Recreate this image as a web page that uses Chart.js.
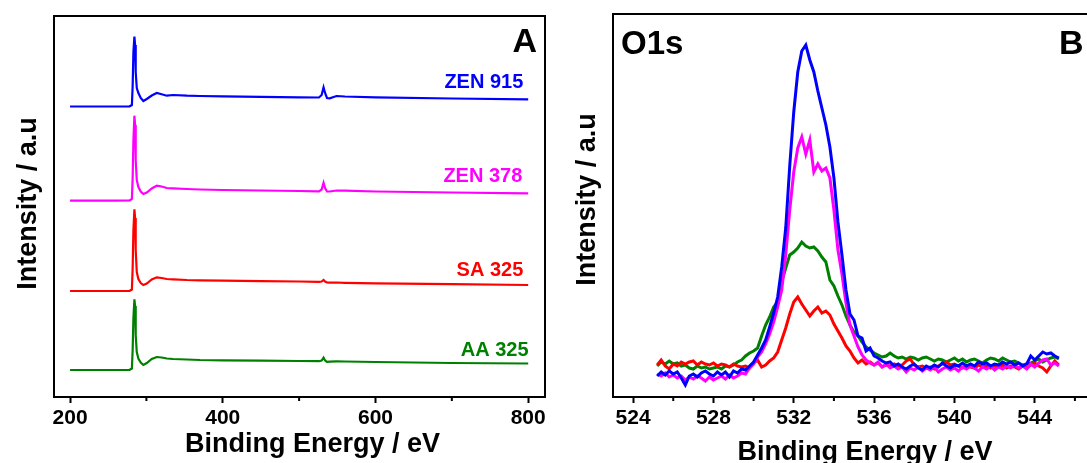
<!DOCTYPE html>
<html>
<head>
<meta charset="utf-8">
<script src="https://cdn.jsdelivr.net/npm/chart.js@4.4.0/dist/chart.umd.min.js"></script>
<style>
  html, body { margin: 0; padding: 0; background: #fff; overflow: hidden; }
  #wrap { position: relative; width: 1087px; height: 463px; overflow: hidden; }
  #surveyChart { position: absolute; left: 0; top: 0; }
  #o1sChart { position: absolute; left: 560px; top: 0; }
</style>
</head>
<body>
<div id="wrap">
  <canvas id="surveyChart" width="560" height="463"></canvas>
  <canvas id="o1sChart" width="560" height="463"></canvas>
</div>
<script>
// ---- survey spectra (stacked, a.u.) ----
const surveyEnergy = [200, 260, 278, 281, 282, 283, 284.3, 285.2, 286, 287.4, 289.5, 292.6, 296, 300.5, 307,
  313.6, 320, 326.7, 335, 353, 370, 400, 450, 500, 526, 529.5, 532, 534, 536.5, 540, 549, 560, 600, 700, 800];
const surveyZen915 = [293.5, 293.5, 293.7, 295, 314, 348, 363.5, 355, 328, 312, 307, 302, 299, 301, 304.5,
  307, 305.7, 304.3, 305, 304.3, 304, 303.7, 303.2, 302.7, 302.5, 305, 312.7, 307, 302, 301.7, 304, 303.5, 302.7, 301.5, 300.7];
const surveyZen378 = [199.3, 199.3, 199.5, 201, 222, 260, 284.3, 275, 240, 220, 213, 208.5, 206, 207.5, 211.5,
  214.3, 213.5, 212, 211.7, 211, 210.5, 210, 209.5, 209, 208.7, 210.5, 217.3, 212, 208.5, 208.5, 209.5, 209.3, 208.5, 207.5, 206.7];
const surveySa325 = [109, 109, 109.2, 110.5, 132, 170, 190.7, 182, 150, 128, 121, 117, 115, 116.5, 120.5,
  122.7, 122, 121, 120.7, 120, 119.7, 119.3, 118.8, 118.5, 118.2, 118.5, 120, 118.5, 117.5, 117.3, 117.5, 117.2, 116.7, 115.8, 115];
const surveyAa325 = [30, 30, 30.2, 31.5, 50, 82, 100.7, 94, 65, 48, 41.5, 37.5, 35, 37, 41,
  43, 42.5, 41.5, 41, 40.5, 40, 39.7, 39.3, 39, 38.8, 39.5, 42.3, 39.5, 38.2, 38.3, 38.7, 38.5, 38, 37, 36.5];
const surveyTicks = [200, 400, 600, 800];

// ---- O1s region (a.u.) ----
const o1sEnergy = [
  525.2, 525.4, 525.6, 525.8, 526.0, 526.2, 526.4, 526.6, 526.8, 527.0,
  527.2, 527.4, 527.6, 527.8, 528.0, 528.2, 528.4, 528.6, 528.8, 529.0,
  529.2, 529.4, 529.6, 529.8, 530.0, 530.2, 530.4, 530.6, 530.8, 531.0,
  531.2, 531.4, 531.6, 531.8, 532.0, 532.2, 532.4, 532.6, 532.8, 533.0,
  533.2, 533.4, 533.6, 533.8, 534.0, 534.2, 534.4, 534.6, 534.8, 535.0,
  535.2, 535.4, 535.6, 535.8, 536.0, 536.2, 536.4, 536.6, 536.8, 537.0,
  537.2, 537.4, 537.6, 537.8, 538.0, 538.2, 538.4, 538.6, 538.8, 539.0,
  539.2, 539.4, 539.6, 539.8, 540.0, 540.2, 540.4, 540.6, 540.8, 541.0,
  541.2, 541.4, 541.6, 541.8, 542.0, 542.2, 542.4, 542.6, 542.8, 543.0,
  543.2, 543.4, 543.6, 543.8, 544.0, 544.2, 544.4, 544.6, 544.8, 545.0,
  545.2];
const o1sZen915 = [
  24, 28, 25, 29, 26, 28, 22, 15, 24, 26,
  23, 27, 29, 26, 24, 28, 25, 28, 23, 29,
  27, 31, 30, 34, 38, 45, 52, 60, 73, 87,
  103, 133, 172, 234, 288, 328, 349, 355, 340, 328,
  309, 292, 275, 253, 222, 178, 145, 110, 86, 80,
  64, 62, 49, 52, 44, 42, 39, 37, 38, 34,
  36, 33, 31, 34, 36, 32, 30, 34, 32, 35,
  33, 37, 34, 32, 35, 34, 37, 34, 36, 34,
  38, 36, 37, 34, 36, 35, 38, 36, 38, 35,
  37, 34, 36, 44, 40, 44, 48, 46, 47, 44,
  42];
const o1sZen378 = [
  26, 24, 27, 23, 25, 22, 24, 20, 23, 21,
  24, 22, 19, 23, 20, 22, 24, 21, 25, 22,
  24, 27, 26, 32, 36, 43, 48, 56, 66, 78,
  93, 110, 145, 190, 228, 252, 263, 246, 260, 228,
  236, 229, 232, 222, 190, 150, 126, 97, 75, 64,
  53, 45, 40, 37, 35, 38, 33, 36, 32, 34,
  31, 33, 28, 32, 30, 33, 29, 32, 30, 33,
  28, 31, 33, 30, 32, 29, 33, 31, 34, 32,
  29, 33, 31, 34, 30, 33, 31, 34, 32, 35,
  32, 34, 31, 36, 33, 37, 40, 41, 35, 37,
  34];
const o1sSa325 = [
  35, 40, 34, 31, 36, 34, 38, 36, 38, 39,
  35, 38, 36, 35, 37, 34, 36, 35, 33, 36,
  34, 33, 34, 32, 37, 40, 33, 35, 39, 42,
  48, 60, 72, 86, 98, 103, 96, 90, 84, 89,
  93, 87, 89, 85, 76, 69, 62, 54, 49, 42,
  37, 40, 36, 38, 35, 37, 33, 35, 34, 36,
  34, 35, 39, 41, 35, 33, 34, 32, 33, 31,
  34, 36, 38, 35, 36, 34, 32, 34, 33, 32,
  35, 33, 34, 32, 34, 33, 35, 32, 34, 33,
  31, 34, 32, 35, 37, 34, 32, 28, 34, 39,
  35];
const o1sAa325 = [
  34, 38, 36, 39, 36, 37, 34, 35, 32, 31,
  34, 32, 33, 31, 32, 33, 31, 34, 33, 35,
  38, 40, 44, 47, 49, 52, 64, 75, 83, 93,
  98, 118, 132, 145, 148, 152, 158, 154, 152, 153,
  149, 143, 138, 120, 114, 104, 95, 84, 75, 68,
  64, 58, 53, 50, 47, 45, 43, 44, 47, 44,
  42, 43, 41, 43, 42, 40, 42, 43, 41, 39,
  41, 40, 38, 40, 42, 39, 41, 38, 40, 41,
  39, 37, 40, 42, 41, 39, 42, 40, 38, 39,
  37, 35, 36, 37, 39, 41, 38, 40, 42, 43,
  41];
const o1sTicks = [524, 528, 532, 536, 540, 544];

const sampleNames = ['ZEN 915', 'ZEN 378', 'SA 325', 'AA 325'];
const sampleColors = ['#0000ff', '#ff00ff', '#ff0000', '#008000'];

// where the sample names sit on the survey panel (eV, a.u.), right-aligned
const nameAnchors = [[793.6, 317.5], [792.3, 223.3], [793.6, 130], [800.4, 50]];

const FONT = '"Liberation Sans", Arial, Helvetica, sans-serif';

function points(xs, ys) {
  return xs.map((x, i) => ({ x: x, y: ys[i] }));
}

// frame, minor ticks, axis titles and text labels
const decor = {
  id: 'decor',
  afterDraw(chart, args, opts) {
    const { ctx, chartArea: a, scales: { x, y } } = chart;
    ctx.save();
    ctx.strokeStyle = '#000';
    ctx.lineWidth = 2;
    ctx.strokeRect(a.left, a.top, a.right - a.left, a.bottom - a.top);

    const vals = x.ticks.map(t => t.value);
    const half = (vals[1] - vals[0]) / 2;
    const mids = vals.map(v => v + half).concat([vals[0] - half]);
    ctx.beginPath();
    mids.forEach(v => {
      if (v <= x.min || v >= x.max) return;
      const px = x.getPixelForValue(v);
      ctx.moveTo(px, a.bottom);
      ctx.lineTo(px, a.bottom + 4);
    });
    ctx.stroke();

    ctx.fillStyle = '#000';
    ctx.font = 'bold 27px ' + FONT;
    ctx.textAlign = 'center';
    ctx.textBaseline = 'alphabetic';
    ctx.fillText(opts.xTitle, (a.left + a.right) / 2 + opts.xTitleShift, opts.xTitleBase);
    ctx.save();
    ctx.translate(opts.yTitleBase, (a.top + a.bottom) / 2 + opts.yTitleShift);
    ctx.rotate(-Math.PI / 2);
    ctx.fillText(opts.yTitle, 0, 0);
    ctx.restore();

    opts.tags.forEach(t => {
      ctx.font = 'bold ' + t.size + 'px ' + FONT;
      ctx.textAlign = t.align;
      ctx.fillText(t.text, (t.align === 'right' ? a.right : a.left) + t.dx, a.top + t.dy);
    });

    if (opts.names) {
      ctx.font = 'bold 20px ' + FONT;
      ctx.textAlign = 'right';
      ctx.textBaseline = 'middle';
      opts.names.forEach((n, i) => {
        ctx.fillStyle = sampleColors[i];
        ctx.fillText(n, x.getPixelForValue(nameAnchors[i][0]), y.getPixelForValue(nameAnchors[i][1]));
      });
    }
    ctx.restore();
  }
};

function xAxis(min, max, tickList) {
  return {
    type: 'linear',
    min: min,
    max: max,
    afterBuildTicks: s => { s.ticks = tickList.map(v => ({ value: v })); },
    afterFit: s => { s.height = 66; },
    grid: { display: true, drawOnChartArea: false, drawTicks: true, tickLength: 6, tickWidth: 2, tickColor: '#000' },
    border: { display: false },
    ticks: { color: '#000', padding: 3, maxRotation: 0, font: { family: FONT, size: 21, weight: 'bold' } }
  };
}

function lineSet(label, xs, ys, color, width, order) {
  return {
    label: label,
    data: points(xs, ys),
    borderColor: color,
    borderWidth: width,
    pointRadius: 0,
    fill: false,
    tension: 0,
    order: order
  };
}

new Chart(document.getElementById('surveyChart'), {
  type: 'line',
  data: {
    datasets: [
      lineSet(sampleNames[0], surveyEnergy, surveyZen915, sampleColors[0], 2.2, 0),
      lineSet(sampleNames[1], surveyEnergy, surveyZen378, sampleColors[1], 2.2, 1),
      lineSet(sampleNames[2], surveyEnergy, surveySa325, sampleColors[2], 2.2, 2),
      lineSet(sampleNames[3], surveyEnergy, surveyAa325, sampleColors[3], 2.2, 3)
    ]
  },
  options: {
    responsive: false,
    animation: false,
    devicePixelRatio: 1,
    layout: { padding: { left: 54, right: 15, top: 16, bottom: 0 } },
    scales: {
      x: xAxis(179, 822, surveyTicks),
      y: { display: false, min: 3, max: 384 }
    },
    plugins: {
      legend: { display: false },
      tooltip: { enabled: false },
      decor: {
        xTitle: 'Binding Energy / eV', xTitleShift: 13, xTitleBase: 452,
        yTitle: 'Intensity / a.u', yTitleBase: 36, yTitleShift: -3,
        tags: [{ text: 'A', size: 34, align: 'right', dx: -8, dy: 36 }],
        names: sampleNames
      }
    }
  },
  plugins: [decor]
});

new Chart(document.getElementById('o1sChart'), {
  type: 'line',
  data: {
    datasets: [
      lineSet(sampleNames[0], o1sEnergy, o1sZen915, sampleColors[0], 3, 0),
      lineSet(sampleNames[1], o1sEnergy, o1sZen378, sampleColors[1], 3, 1),
      lineSet(sampleNames[2], o1sEnergy, o1sSa325, sampleColors[2], 3, 2),
      lineSet(sampleNames[3], o1sEnergy, o1sAa325, sampleColors[3], 3, 3)
    ]
  },
  options: {
    responsive: false,
    animation: false,
    devicePixelRatio: 1,
    layout: { padding: { left: 53, right: 25, top: 14, bottom: 0 } },
    scales: {
      x: xAxis(523, 547, o1sTicks),
      y: { display: false, min: 3, max: 386 }
    },
    plugins: {
      legend: { display: false },
      tooltip: { enabled: false },
      decor: {
        xTitle: 'Binding Energy / eV', xTitleShift: 11, xTitleBase: 460,
        yTitle: 'Intensity / a.u', yTitleBase: 35, yTitleShift: -6,
        tags: [
          { text: 'O1s', size: 33, align: 'left', dx: 8, dy: 40 },
          { text: 'B', size: 34, align: 'left', dx: 446, dy: 40 }
        ]
      }
    }
  },
  plugins: [decor]
});
</script>
</body>
</html>
